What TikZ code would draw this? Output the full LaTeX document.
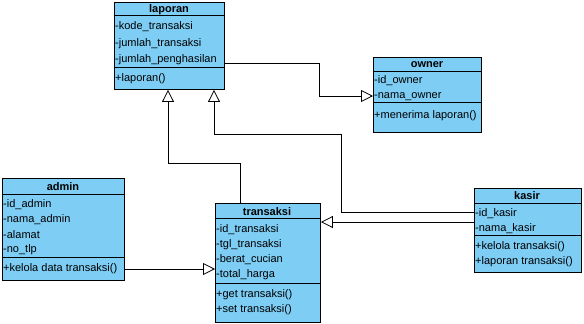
\documentclass[tikz,border=0pt]{standalone}
\usepackage{fontspec}
\setmainfont{Liberation Sans}
\usetikzlibrary{arrows.meta}
\definecolor{umlblue}{RGB}{125,205,245}
\tikzset{
  cls/.style={draw=black, fill=umlblue, line width=0.9pt, inner sep=0pt, anchor=north west},
  ttl/.style={font=\fontsize{11}{12}\selectfont\bfseries, inner sep=0pt, yshift=-0.8pt},
  item/.style={font=\fontsize{11}{12}\selectfont, anchor=west, inner sep=0pt, yshift=-1.5pt},
  sep/.style={line width=0.9pt},
  gen/.style={-{Triangle[open,length=12pt,width=12pt]}, line width=0.8pt},
}
\begin{document}
\begin{tikzpicture}[x=1pt,y=-1pt]
\useasboundingbox (0,0) rectangle (584,324);

% laporan
\node[cls, minimum width=110pt, minimum height=87pt] (laporan) at (114,2) {};
\draw[sep] (114,15) -- (224,15);
\draw[sep] (114,67) -- (224,67);
\node[ttl] (laporanT) at (169,9) {laporan};
\node[item] (l1) at (115,25) {-kode\_transaksi};
\node[item] (l2) at (115,42) {-jumlah\_transaksi};
\node[item] (l3) at (115,58) {-jumlah\_penghasilan};
\node[item] (l4) at (115,77) {+laporan()};

% owner
\node[cls, minimum width=108pt, minimum height=75pt] (owner) at (373,57) {};
\draw[sep] (373,71) -- (481,71);
\draw[sep] (373,102) -- (481,102);
\node[ttl] (ownerT) at (427,64) {owner};
\node[item] (o1) at (374,79) {-id\_owner};
\node[item] (o2) at (374,95) {-nama\_owner};
\node[item] (o3) at (374,114) {+menerima laporan()};

% admin
\node[cls, minimum width=122pt, minimum height=102pt] (admin) at (2,178) {};
\draw[sep] (2,194) -- (124,194);
\draw[sep] (2,257) -- (124,257);
\node[ttl] (adminT) at (63,186) {admin};
\node[item] (a1) at (3,203) {-id\_admin};
\node[item] (a2) at (3,218) {-nama\_admin};
\node[item] (a3) at (3,233) {-alamat};
\node[item] (a4) at (3,248) {-no\_tlp};
\node[item] (a5) at (3,267) {+kelola data transaksi()};

% transaksi
\node[cls, minimum width=105pt, minimum height=119pt] (transaksi) at (215,203) {};
\draw[sep] (215,218) -- (320,218);
\draw[sep] (215,283) -- (320,283);
\node[ttl] (transaksiT) at (267,211) {transaksi};
\node[item] (t1) at (216,228) {-id\_transaksi};
\node[item] (t2) at (216,243) {-tgl\_transaksi};
\node[item] (t3) at (216,258) {-berat\_cucian};
\node[item] (t4) at (216,273) {-total\_harga};
\node[item] (t5) at (216,293) {+get transaksi()};
\node[item] (t6) at (216,308) {+set transaksi()};

% kasir
\node[cls, minimum width=107pt, minimum height=84pt] (kasir) at (474,188) {};
\draw[sep] (474,203) -- (581,203);
\draw[sep] (474,235) -- (581,235);
\node[ttl] (kasirT) at (527,195) {kasir};
\node[item] (k1) at (475,212) {-id\_kasir};
\node[item] (k2) at (475,227) {-nama\_kasir};
\node[item] (k3) at (475,245) {+kelola transaksi()};
\node[item] (k4) at (475,260) {+laporan transaksi()};

% generalisation connectors
\draw[gen] (laporan.east |- 0,63) -- (319,63) -- (319,96) -- (owner.west |- 0,96);
\draw[gen] (kasir.west |- 0,212) -- (341,212) -- (341,134) -- (214,134) -- (214,0 |- laporan.south);
\draw[gen] (kasir.west |- 0,222) -- (transaksi.east |- 0,222);
\draw[gen] (240,0 |- transaksi.north) -- (240,163) -- (168,163) -- (168,0 |- laporan.south);
\draw[gen] (admin.east |- 0,269) -- (transaksi.west |- 0,269);
\end{tikzpicture}
\end{document}
